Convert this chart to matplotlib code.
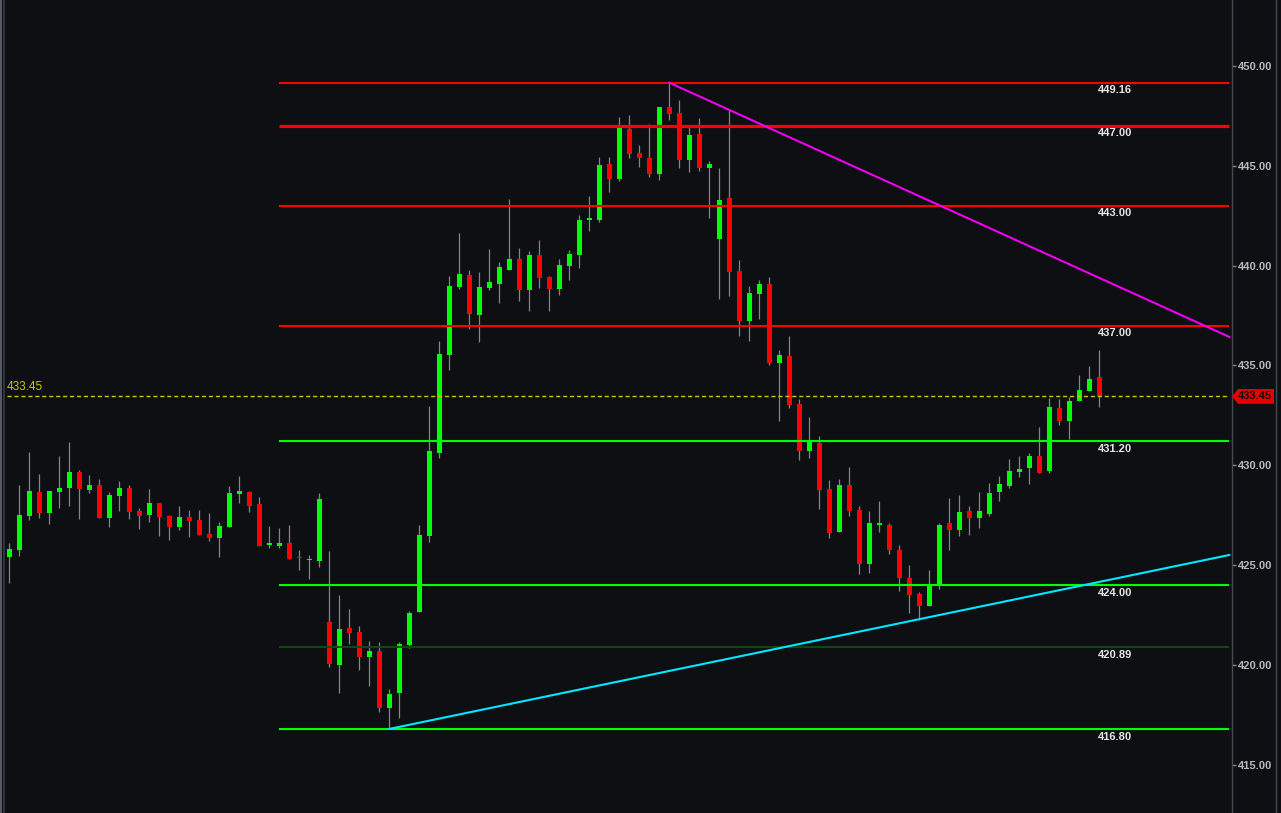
import matplotlib
matplotlib.use("Agg")
import matplotlib.pyplot as plt
import numpy as np
from matplotlib.transforms import blended_transform_factory
from matplotlib.patches import Polygon, Rectangle
from matplotlib.lines import Line2D

# candle data (one bar per slot)
opens = [425.43, 425.78, 427.48, 428.67, 427.61, 428.67, 428.87, 429.67, 428.77, 429.02,
         427.36, 428.47, 428.87, 427.71, 427.51, 428.11, 427.46, 426.91, 427.41, 427.26,
         426.56, 426.36, 426.91, 428.57, 428.67, 428.06, 426.03, 425.96, 426.11, 425.38,
         425.24, 425.21, 422.16, 420.01, 421.86, 421.66, 420.41, 420.71, 417.85, 418.61,
         421.01, 422.66, 426.48, 430.62, 435.53, 438.93, 439.53, 437.53, 438.88, 439.08,
         439.78, 440.33, 438.78, 440.53, 439.43, 438.83, 439.98, 440.53, 442.30, 442.29,
         445.09, 444.34, 446.85, 445.64, 445.39, 444.59, 447.95, 447.65, 445.29, 446.60,
         444.89, 441.34, 443.39, 439.74, 437.24, 438.59, 439.09, 435.13, 435.48, 433.08,
         430.73, 431.13, 428.82, 426.67, 429.02, 427.77, 425.06, 427.03, 427.01, 425.76,
         424.36, 423.56, 422.96, 424.01, 427.11, 426.76, 427.72, 427.37, 427.57, 428.67,
         428.97, 429.67, 429.87, 430.47, 429.72, 432.88, 432.22, 433.23, 433.73, 434.43]
highs = [426.10, 429.02, 430.67, 429.57, 428.72, 430.47, 431.17, 429.77, 429.52, 429.32,
         428.67, 429.22, 429.02, 427.86, 428.82, 428.11, 427.51, 427.96, 427.76, 427.76,
         427.61, 427.16, 428.97, 429.47, 428.72, 428.42, 426.96, 426.86, 427.01, 425.76,
         425.51, 428.62, 425.72, 423.51, 422.81, 421.96, 421.21, 421.16, 418.81, 421.16,
         422.71, 427.02, 432.97, 436.23, 439.48, 441.64, 439.78, 439.68, 440.84, 440.18,
         443.34, 440.89, 440.73, 441.29, 439.48, 440.33, 440.79, 442.54, 443.49, 445.44,
         445.44, 447.45, 447.55, 446.04, 447.10, 447.95, 449.16, 448.30, 447.00, 447.40,
         445.24, 444.89, 447.80, 440.29, 438.99, 439.29, 439.44, 435.78, 436.48, 433.33,
         432.43, 431.48, 429.27, 429.32, 429.93, 427.97, 427.72, 428.22, 427.11, 426.01,
         425.01, 423.66, 424.76, 427.11, 428.37, 428.52, 427.97, 428.67, 429.12, 429.47,
         430.32, 430.47, 430.62, 431.92, 433.38, 433.33, 433.43, 434.53, 434.98, 435.78]
lows = [424.13, 425.48, 427.28, 427.38, 427.08, 427.86, 427.96, 427.31, 428.62, 427.36,
        426.91, 427.71, 427.31, 426.81, 427.16, 426.46, 426.26, 426.76, 426.41, 426.51,
        426.21, 425.41, 426.91, 428.12, 427.66, 425.96, 425.86, 425.86, 425.31, 424.76,
        424.31, 424.91, 419.91, 418.61, 421.06, 419.76, 418.96, 417.65, 416.80, 417.35,
        420.86, 422.66, 426.17, 430.37, 434.78, 438.83, 436.83, 436.18, 438.78, 438.13,
        439.78, 438.23, 437.73, 438.88, 437.73, 438.53, 439.28, 439.88, 441.74, 442.20,
        443.69, 444.24, 445.39, 444.94, 444.44, 444.29, 447.30, 444.89, 444.69, 444.74,
        442.39, 438.33, 438.48, 436.48, 436.23, 437.34, 435.03, 432.23, 432.88, 430.28,
        430.38, 427.82, 426.37, 426.67, 427.47, 424.56, 424.61, 426.66, 425.56, 423.71,
        422.61, 422.26, 422.96, 423.81, 425.76, 426.46, 426.51, 426.86, 427.47, 428.22,
        428.87, 429.42, 429.07, 429.62, 429.62, 432.02, 431.32, 433.23, 433.73, 432.93]
closes = [425.81, 427.51, 428.72, 427.61, 428.72, 428.87, 429.67, 428.82, 429.02, 427.36,
          428.52, 428.87, 427.66, 427.46, 428.11, 427.41, 426.91, 427.41, 427.21, 426.51,
          426.36, 426.96, 428.62, 428.72, 427.96, 425.96, 426.07, 426.11, 425.31, 425.34,
          425.28, 428.32, 420.07, 421.81, 421.61, 420.41, 420.71, 417.85, 418.56, 421.06,
          422.61, 426.52, 430.72, 435.58, 438.98, 439.58, 437.58, 438.93, 439.18, 439.93,
          440.33, 438.78, 440.53, 439.38, 438.83, 440.03, 440.58, 442.29, 442.34, 445.04,
          444.34, 446.90, 445.59, 445.39, 444.59, 447.95, 447.60, 445.29, 446.55, 444.89,
          445.09, 443.29, 439.69, 437.24, 438.64, 439.09, 435.13, 435.53, 433.03, 430.73,
          431.18, 428.77, 426.62, 429.02, 427.72, 425.06, 427.11, 427.07, 425.76, 424.36,
          423.51, 422.96, 424.01, 427.01, 426.76, 427.67, 427.37, 427.72, 428.62, 429.07,
          429.72, 429.82, 430.47, 429.62, 432.93, 432.22, 433.23, 433.78, 434.33, 433.45]

# horizontal levels drawn from bar 27 to the right edge
level_prices = [449.16, 447.00, 443.00, 437.00, 431.20, 424.00, 420.89, 416.80]
level_colors = ['#ff0000', '#ff0000', '#ff0000', '#ff0000',
                '#00ff00', '#00ff00', '#0b4a0b', '#00ff00']
level_widths = [1.5, 2.3, 1.5, 1.5, 1.5, 1.5, 1.5, 1.5]
level_start = 27
level_end = 122

# trend lines (bar index, price)
down_x = [66, 122]
down_y = [449.16, 436.43]
up_x = [38, 122]
up_y = [416.80, 425.51]

last_price = 433.45
price_ticks = [415, 420, 425, 430, 435, 440, 445, 450]

BG = '#0d0f12'
W, H = 1281, 813

fig = plt.figure(figsize=(W / 100, H / 100), dpi=100, facecolor=BG)
ax = fig.add_axes([6 / W, 0, (1232 - 6) / W, 1])
ax.set_facecolor(BG)

n = len(opens)
x = np.arange(n)
o = np.array(opens)
c = np.array(closes)
up = c >= o
colors = np.where(up, '#00ff00', '#ff0000')
bottom = np.minimum(o, c)
height = np.maximum(np.abs(c - o), 0.06)

ax.vlines(x, lows, highs, color='#858585', lw=0.9, zorder=2)
ax.bar(x, height, bottom=bottom, width=0.5, color=colors, linewidth=0, zorder=3)

# levels + labels
for p, col, lw in zip(level_prices, level_colors, level_widths):
    ax.hlines(p, level_start, level_end, color=col, lw=lw, zorder=4)
    ax.text(110.6, p - 0.13, f'{p:.2f}', ha='center', va='top', color='#e6e6e6',
            fontsize=8, fontweight='bold', family='Liberation Sans', zorder=6)

ax.plot(down_x, down_y, color='#f000f0', lw=1.5, zorder=5)
ax.plot(up_x, up_y, color='#00e8ff', lw=1.5, zorder=5)

# last price dashed line + left label
xl, xr = -0.33, 122.27
ax.hlines(last_price, xl + 0.05, level_end, color='#c8c800', lw=1.0,
          linestyles=(0, (3, 2)), zorder=4)
ax.text(xl + 0.02, last_price + 0.17, f'{last_price:.2f}', ha='left', va='bottom',
        color='#c8c800', fontsize=8.5, family='Liberation Sans')

ax.set_xlim(xl, xr)
ax.set_ylim(412.59, 453.30)

# right price axis
ax.yaxis.tick_right()
ax.set_yticks(price_ticks)
ax.set_yticklabels([f'{t:.2f}' for t in price_ticks])
ax.tick_params(axis='y', colors='#8a8a8a', length=3, width=1, pad=1, labelsize=8,
               labelcolor='#b9b9b9')
for lbl in ax.get_yticklabels():
    lbl.set_fontweight('bold')
    lbl.set_family('Liberation Sans')
ax.set_xticks([])
for s in ['top', 'bottom', 'left']:
    ax.spines[s].set_visible(False)
ax.spines['right'].set_color('#454a52')
ax.spines['right'].set_linewidth(1)

# red last-price tag on the axis
tr = blended_transform_factory(ax.transAxes, ax.transData)
aw = 1226.0
hh = 0.37
tag = Polygon([(1.0, last_price), (1 + 6 / aw, last_price + hh), (1 + 42 / aw, last_price + hh),
               (1 + 42 / aw, last_price - hh), (1 + 6 / aw, last_price - hh)],
              closed=True, transform=tr, facecolor='#e60000', edgecolor='none',
              clip_on=False, zorder=10)
ax.add_patch(tag)
ax.text(1 + 23 / aw, last_price, f'{last_price:.2f}', transform=tr, ha='center', va='center',
        color='#200000', fontsize=8, fontweight='bold', family='Liberation Sans',
        clip_on=False, zorder=11)

# frame bits around the panel
fig.add_artist(Line2D([1276 / W, 1276 / W], [0, 1], color='#454a52', lw=1))
fig.patches.append(Rectangle((0, 0), 2 / W, 1, transform=fig.transFigure,
                             facecolor='#535a66', edgecolor='none'))
fig.patches.append(Rectangle((3 / W, 0), 2 / W, 1, transform=fig.transFigure,
                             facecolor='#30343c', edgecolor='none'))

fig.savefig('out.png', dpi=100, facecolor=BG)
